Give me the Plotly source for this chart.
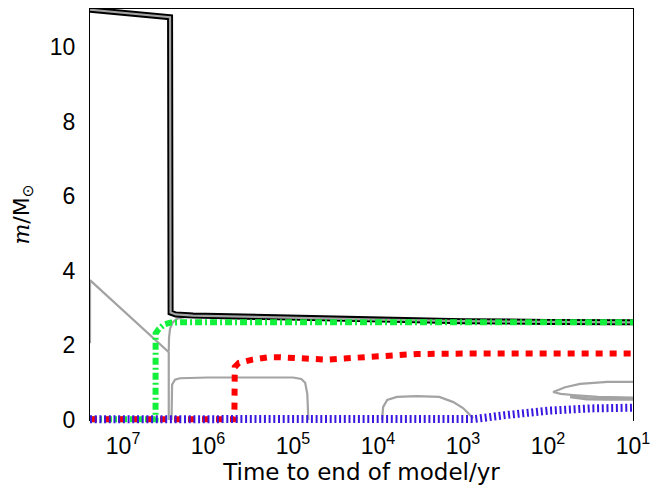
import plotly.graph_objects as go
import math

# ---- data (time to end of model in yr, mass in Msun) ----
t_total = [2.45e7, 2.8e6, 2.76e6, 2.4e6, 1.5e6, 1.0e6, 3.0e5, 1.0e5, 3.0e4, 1.0e4, 3.0e3, 1.0e3, 1.0e2, 1.0e1]
m_total = [11.0, 10.80, 2.88, 2.83, 2.80, 2.79, 2.77, 2.75, 2.72, 2.69, 2.67, 2.65, 2.63, 2.62]

t_he = [2.45e7, 4.15e6, 4.14e6, 3.8e6, 3.3e6, 2.8e6, 2.0e6, 1.0e6, 1.0e5, 1.0e4, 1.0e3, 1.0e2, 1.0e1]
m_he = [0.02, 0.02, 2.32, 2.44, 2.56, 2.61, 2.62, 2.62, 2.62, 2.62, 2.62, 2.62, 2.62]

t_co = [2.45e7, 4.9e5, 4.85e5, 4.35e5, 3.0e5, 2.0e5, 1.4e5, 9.0e4, 6.3e4, 4.0e4, 2.5e4, 1.25e4, 8.0e3, 3.5e3, 1.0e3, 1.0e2, 1.0e1]
m_co = [0.02, 0.02, 1.42, 1.53, 1.62, 1.68, 1.68, 1.67, 1.64, 1.62, 1.65, 1.69, 1.73, 1.77, 1.78, 1.78, 1.78]

t_one = [2.45e7, 7.2e2, 3.2e2, 1.0e2, 3.2e1, 1.0e1]
m_one = [0.02, 0.03, 0.13, 0.25, 0.31, 0.33]

# convective boundaries (grey)
t_g1 = [2.45e7, 2.45e7, 2.9e6, 2.9e6]
m_g1 = [2.06, 3.75, 1.82, 0.0]
t_g2 = [2.9e6, 2.88e6, 2.8e6, 2.6e6, 2.3e6, 1.8e6]
m_g2 = [1.85, 2.2, 2.45, 2.62, 2.72, 2.77]
t_g3 = [2.69e6, 2.65e6, 2.45e6, 2.15e6, 1.0e6, 3.0e5, 1.0e5, 8.0e4, 7.2e4, 6.8e4, 6.6e4]
m_g3 = [0.0, 0.95, 1.08, 1.12, 1.14, 1.15, 1.14, 1.10, 1.0, 0.7, 0.0]
t_g4 = [9.0e3, 8.7e3, 7.8e3, 6.0e3, 3.5e3, 1.9e3, 1.3e3, 1.0e3, 7.6e2]
m_g4 = [0.0, 0.35, 0.54, 0.62, 0.64, 0.62, 0.48, 0.32, 0.05]
t_g5 = [10, 20, 42, 63, 87, 71, 51, 26, 10]
m_g5 = [1.02, 1.02, 0.97, 0.88, 0.75, 0.70, 0.67, 0.62, 0.60]
t_g6 = [55, 35, 20, 10]
m_g6 = [0.63, 0.57, 0.56, 0.56]

x_tickvals = [1e7, 1e6, 1e5, 1e4, 1e3, 1e2, 1e1]
x_ticktext = ["10<sup>7</sup>", "10<sup>6</sup>", "10<sup>5</sup>", "10<sup>4</sup>",
              "10<sup>3</sup>", "10<sup>2</sup>", "10<sup>1</sup>"]
y_tickvals = [0, 2, 4, 6, 8, 10]

X_RANGE = [math.log10(2.45e7), 1.0]
Y_RANGE = [0, 11.02]

# geometry: the data subplot extends a little below the visible frame so that
# lines lying on m=0 are not cut in half (as in the reference)
H, W = 491, 665
M_T, M_B, M_L, M_R = 9, 61, 90, 32
plot_h = H - M_T - M_B
ext_px = 10
d0 = ext_px / plot_h
px_per_unit = (1 - d0) * plot_h / (Y_RANGE[1] - Y_RANGE[0])
y2_range = [Y_RANGE[1] - plot_h / px_per_unit, Y_RANGE[1]]

GREY = "#a3a3a3"
TICKFONT = dict(family="Liberation Sans", size=23, color="black")
fig = go.Figure()
fig.add_trace(go.Scatter(x=[], y=[], xaxis="x", yaxis="y", showlegend=False))

def add(t, m, color, width, dash="solid"):
    fig.add_trace(go.Scatter(x=t, y=m, mode="lines", xaxis="x2", yaxis="y2",
                             line=dict(color=color, width=width, dash=dash),
                             showlegend=False, hoverinfo="skip"))

for t, m in [(t_g1, m_g1), (t_g2, m_g2), (t_g3, m_g3), (t_g4, m_g4), (t_g5, m_g5)]:
    add(t, m, GREY, 2.2)
add(t_g6, m_g6, GREY, 3.5)
add(t_total, m_total, "black", 6)
add(t_total, m_total, GREY, 2.2)
add(t_he, m_he, "#12f03c", 6, "7px,3px,2px,3px")
add(t_co, m_co, "#ff0000", 6, "7px,7px")
add(t_one, m_one, "#3a18e0", 8, "2px,2.7px")

fig.update_layout(
    width=W, height=H,
    margin=dict(l=M_L, r=M_R, t=M_T, b=M_B),
    paper_bgcolor="white", plot_bgcolor="white",
    font=dict(family="DejaVu Sans", size=21, color="black"),
    xaxis=dict(type="log", range=X_RANGE, domain=[0, 1], anchor="y",
               tickvals=x_tickvals, ticktext=x_ticktext,
               ticks="inside", ticklen=7, tickwidth=1, tickcolor="black",
               showline=True, linecolor="black", linewidth=1, mirror="allticks",
               showgrid=False, zeroline=False, ticklabelstandoff=5,
               tickfont=TICKFONT,
               title=dict(text="Time to end of model/yr",
                          font=dict(family="DejaVu Sans", size=23), standoff=6)),
    yaxis=dict(range=Y_RANGE, domain=[d0, 1], anchor="x", tickvals=y_tickvals,
               ticks="inside", ticklen=10, tickwidth=1, tickcolor="black",
               minor=dict(ticks="inside", ticklen=5, dtick=0.5, tickcolor="black", showgrid=False),
               showline=True, linecolor="black", linewidth=1, mirror="allticks",
               showgrid=False, zeroline=False, ticklabelstandoff=9,
               tickfont=TICKFONT,
               title=dict(text="<span style='font-family:DejaVu Serif'><i>m</i></span>/M<sub>⊙</sub>",
                          font=dict(family="DejaVu Sans", size=22), standoff=14)),
    xaxis2=dict(type="log", range=X_RANGE, domain=[0, 1], anchor="y2", visible=False),
    yaxis2=dict(range=y2_range, domain=[0, 1], anchor="x2", visible=False),
)
fig.write_html("out.html")
